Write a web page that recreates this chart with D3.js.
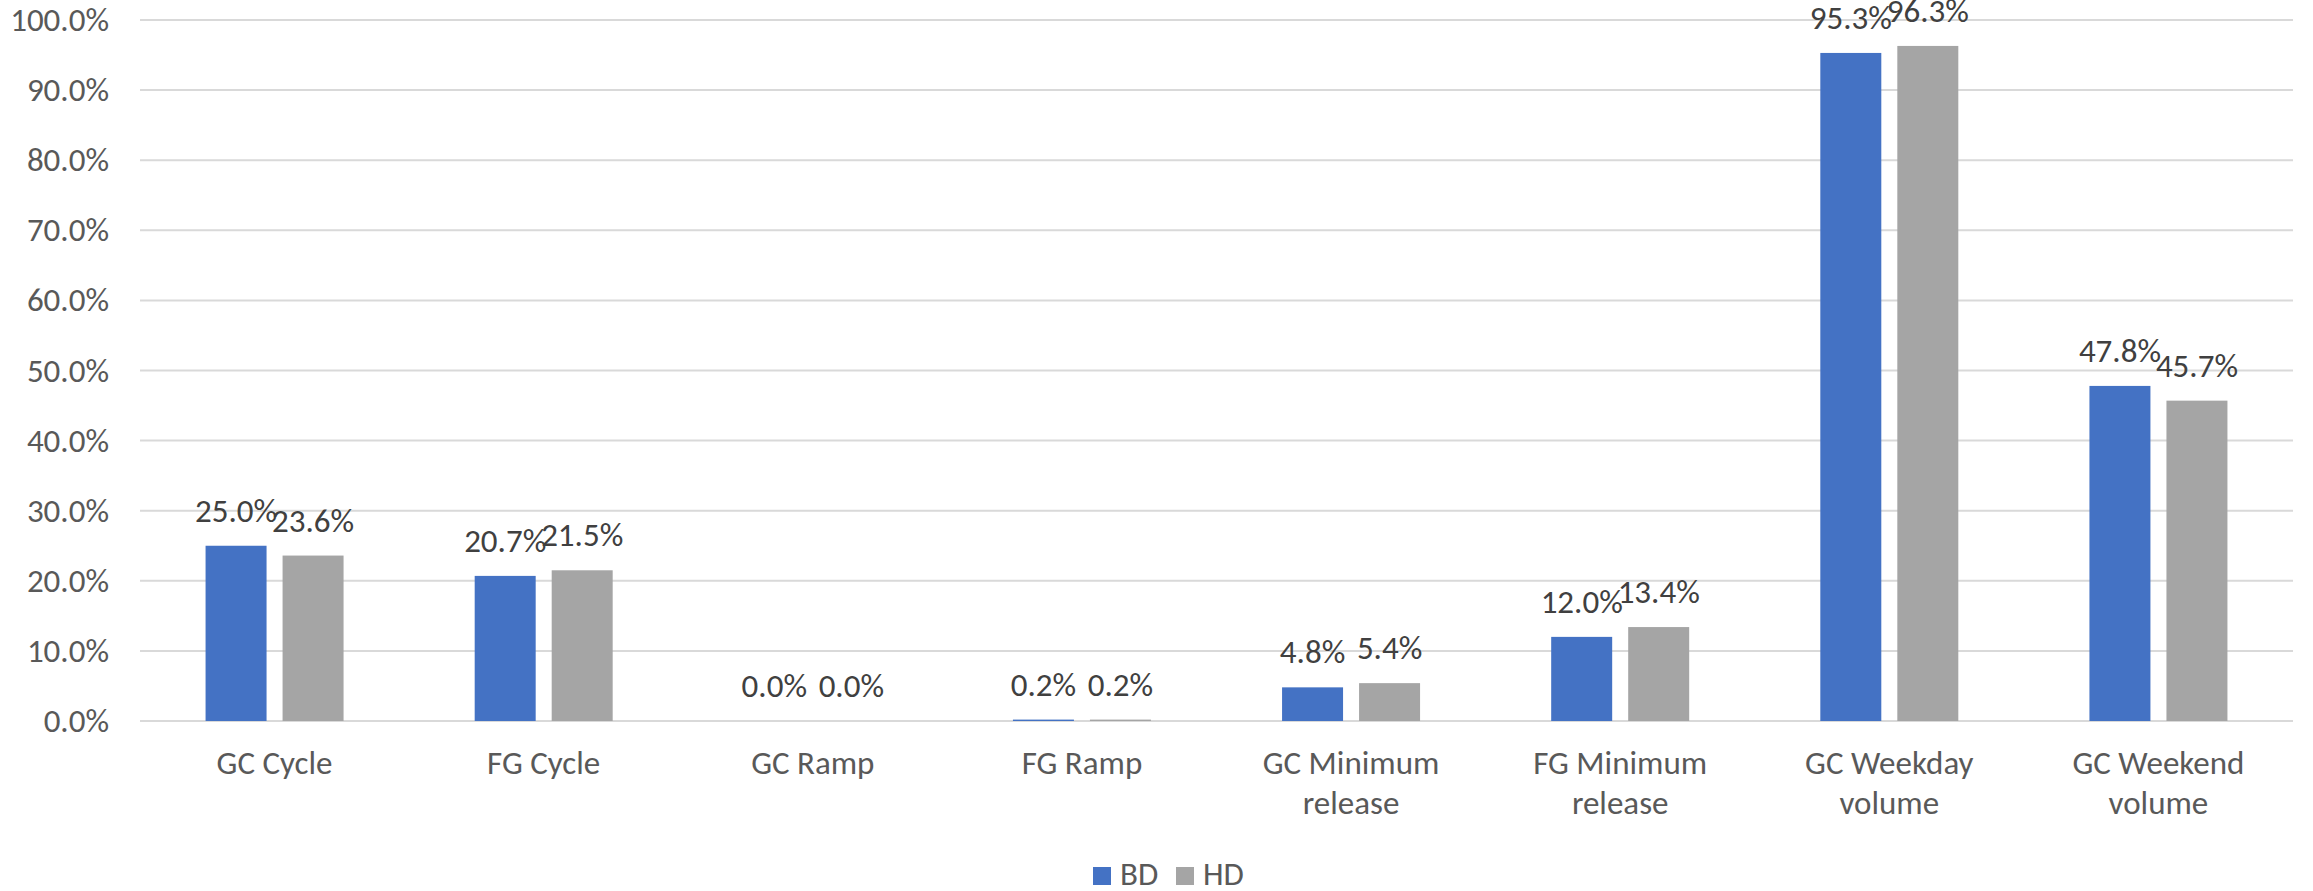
<!DOCTYPE html>
<html>
<head>
<meta charset="utf-8">
<script src="https://cdn.jsdelivr.net/npm/d3@7"></script>
<style>
  body { margin: 0; background: #fff; }
  text { font-family: Carlito, Calibri, "Liberation Sans", Arial, sans-serif; }
</style>
</head>
<body>
<div class="svg-div"></div>
<script>
// chart values
var categories = [["GC Cycle"], ["FG Cycle"], ["GC Ramp"], ["FG Ramp"],
    ["GC Minimum", "release"], ["FG Minimum", "release"], ["GC Weekday", "volume"], ["GC Weekend", "volume"]]
var seriesNames = ["BD", "HD"]
var bdValues = [25.0, 20.7, 0.0, 0.2, 4.8, 12.0, 95.3, 47.8]
var hdValues = [23.6, 21.5, 0.0, 0.2, 5.4, 13.4, 96.3, 45.7]
var yTicks = [0, 10, 20, 30, 40, 50, 60, 70, 80, 90, 100]
var colors = ["#4472C4", "#A5A5A5"]

var chartW = 2313, chartH = 891
var plotLeft = 140, plotRight = 2293, plotTop = 20, plotBottom = 721
var fontSize = 33

var svg = d3.select(".svg-div").append("svg")
    .attr("width", chartW).attr("height", chartH)

var catKeys = categories.map(c => c.join(" "))
let x0 = d3.scaleBand().domain(catKeys).range([plotLeft, plotRight]).padding(0)
let y = d3.scaleLinear().domain([0, 100]).range([plotBottom, plotTop])

// gridlines
svg.append("g").selectAll("line")
    .data(yTicks)
    .join("line")
    .attr("x1", plotLeft).attr("x2", plotRight)
    .attr("y1", d => y(d)).attr("y2", d => y(d))
    .attr("stroke", "#D9D9D9").attr("stroke-width", 2)

// y axis labels
let yAxis = d3.axisLeft(y).tickValues(yTicks).tickSize(0).tickPadding(31)
    .tickFormat(d => d.toFixed(1) + "%")
let gy = svg.append("g").attr("transform", "translate(" + plotLeft + ",0)").call(yAxis)
gy.select(".domain").remove()
gy.attr("font-family", null).attr("font-size", null)
gy.selectAll("text").attr("font-size", fontSize).attr("fill", "#595959")

// bars
var groupW = 138
let x1 = d3.scaleBand().domain(seriesNames).range([0, groupW]).paddingInner(0.208)
var rows = []
for (let i = 0; i < catKeys.length; i++) {
    rows.push({cat: catKeys[i], s: "BD", v: bdValues[i]})
    rows.push({cat: catKeys[i], s: "HD", v: hdValues[i]})
}
function barX(d) {
    return x0(d.cat) + (x0.bandwidth() - groupW) / 2 + x1(d.s)
}
svg.append("g").selectAll("rect")
    .data(rows)
    .join("rect")
    .attr("x", d => barX(d))
    .attr("y", d => y(d.v))
    .attr("width", x1.bandwidth())
    .attr("height", d => y(0) - y(d.v))
    .attr("fill", d => colors[seriesNames.indexOf(d.s)])

// data labels
svg.append("g").selectAll("text")
    .data(rows)
    .join("text")
    .attr("x", d => barX(d) + x1.bandwidth() / 2)
    .attr("y", d => y(d.v) - 24)
    .attr("text-anchor", "middle")
    .attr("font-size", fontSize)
    .attr("fill", "#404040")
    .text(d => d.v.toFixed(1) + "%")

// category labels
let gx = svg.append("g")
categories.forEach(function(c, i) {
    let cx = x0(catKeys[i]) + x0.bandwidth() / 2
    let t = gx.append("text")
        .attr("x", cx)
        .attr("y", 774)
        .attr("text-anchor", "middle")
        .attr("font-size", fontSize)
        .attr("fill", "#595959")
    c.forEach(function(line, j) {
        t.append("tspan")
            .attr("x", cx)
            .attr("dy", j == 0 ? 0 : 40)
            .text(line)
    })
})

// legend
var legendX = [1093, 1176]
let lg = svg.append("g").selectAll("g")
    .data(seriesNames)
    .join("g")
    .attr("transform", (d, i) => "translate(" + legendX[i] + ",867)")
lg.append("rect").attr("width", 18).attr("height", 18)
    .attr("fill", (d, i) => colors[i])
lg.append("text").attr("x", 27).attr("y", 18)
    .attr("font-size", fontSize).attr("fill", "#595959")
    .text(d => d)
</script>
</body>
</html>
